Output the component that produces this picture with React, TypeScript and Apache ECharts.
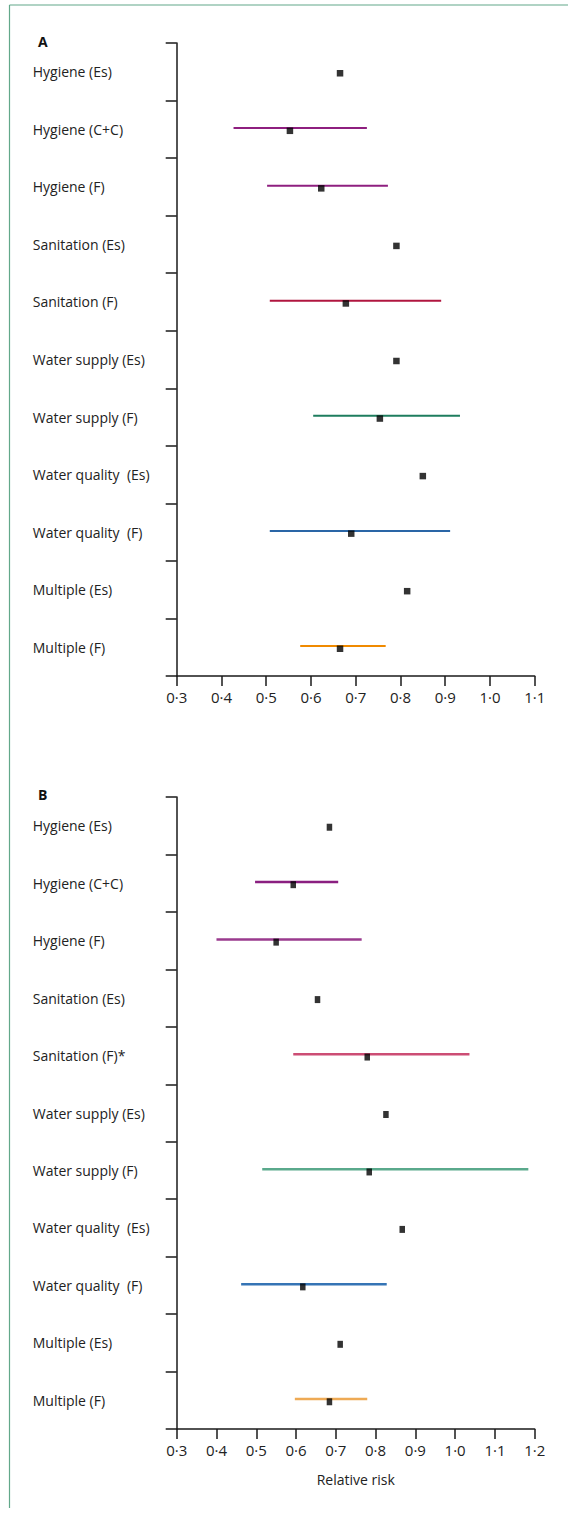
import React, { useEffect, useRef } from "react";
import * as echarts from "echarts";

const categoriesA = [
  "Hygiene (Es)", "Hygiene (C+C)", "Hygiene (F)", "Sanitation (Es)", "Sanitation (F)",
  "Water supply (Es)", "Water supply (F)", "Water quality  (Es)", "Water quality  (F)",
  "Multiple (Es)", "Multiple (F)",
];
const categoriesB = [
  "Hygiene (Es)", "Hygiene (C+C)", "Hygiene (F)", "Sanitation (Es)", "Sanitation (F)*",
  "Water supply (Es)", "Water supply (F)", "Water quality  (Es)", "Water quality  (F)",
  "Multiple (Es)", "Multiple (F)",
];

// point estimates
const estA = [0.665, 0.553, 0.623, 0.791, 0.678, 0.791, 0.754, 0.85, 0.69, 0.815, 0.665];
const estB = [0.684, 0.593, 0.55, 0.654, 0.779, 0.826, 0.784, 0.867, 0.617, 0.711, 0.684];
// confidence intervals (null = none shown)
const loA = [null, 0.427, 0.502, null, 0.508, null, 0.605, null, 0.508, null, 0.576];
const hiA = [null, 0.725, 0.772, null, 0.891, null, 0.933, null, 0.911, null, 0.767];
const loB = [null, 0.497, 0.4, null, 0.593, null, 0.515, null, 0.462, null, 0.597];
const hiB = [null, 0.706, 0.765, null, 1.036, null, 1.184, null, 0.828, null, 0.779];

const ciColorsA = ["#000", "#8e1f7f", "#8e1f7f", "#000", "#b0163f", "#000", "#1e7d5e", "#000", "#2a66a6", "#000", "#f08a00"];
const ciColorsB = ["#000", "#8a1f80", "#9a3a8e", "#000", "#cc4d74", "#000", "#5aa98c", "#000", "#3574b5", "#000", "#eeaa55"];

const xTicksA = { min: 0.3, max: 1.1 };
const xTicksB = { min: 0.3, max: 1.2 };

const FONT = "'Open Sans', 'Noto Sans', sans-serif";
const fmt = (v: number) => v.toFixed(1).replace(".", "\u00B7");

export default function App() {
  const ref = useRef<HTMLDivElement>(null);
  useEffect(() => {
    if (!ref.current) return;
    const chart = echarts.init(ref.current, null, { renderer: "svg" });
    const axisColor = "#1a1a1a";
    const grids = [
      { left: 176.7, top: 43, width: 358, height: 633 },
      { left: 176.7, top: 797, width: 358, height: 632 },
    ];
    const mkX = (i: number, r: { min: number; max: number }, name?: string) => ({
      type: "value",
      gridIndex: i,
      min: r.min,
      max: r.max,
      interval: 0.1,
      splitLine: { show: false },
      axisLine: { show: true, lineStyle: { color: axisColor, width: 1.5 } },
      axisTick: { show: true, length: 10, lineStyle: { color: axisColor, width: 1.5 } },
      axisLabel: { formatter: fmt, fontFamily: FONT, fontSize: 15, color: "#222", margin: 13 },
      name: name || "",
      nameLocation: "middle",
      nameGap: 43,
      nameTextStyle: { fontFamily: FONT, fontSize: 14, color: "#222" },
    });
    const mkY = (i: number, cats: string[]) => ({
      type: "category",
      gridIndex: i,
      data: cats,
      inverse: true,
      boundaryGap: true,
      axisLine: { show: true, lineStyle: { color: axisColor, width: 1.5 } },
      axisTick: { show: true, length: 11, lineStyle: { color: axisColor, width: 1.5 } },
      axisLabel: {
        align: "left",
        margin: 144,
        fontFamily: FONT,
        fontSize: 14,
        color: "#222",
      },
      splitLine: { show: false },
    });
    const ciSeries = (i: number, lo: (number | null)[], hi: (number | null)[], colors: string[], w: number) => ({
      type: "custom",
      xAxisIndex: i,
      yAxisIndex: i,
      data: lo
        .map((l, k) => (l === null ? null : [l, hi[k], k]))
        .filter((d) => d !== null),
      encode: { x: [0, 1], y: 2 },
      renderItem: (params: any, api: any) => {
        const idx = api.value(2);
        const p1 = api.coord([api.value(0), idx]);
        const p2 = api.coord([api.value(1), idx]);
        return {
          type: "line",
          shape: { x1: p1[0], y1: p1[1] - 1.2, x2: p2[0], y2: p2[1] - 1.2 },
          style: { stroke: colors[idx], lineWidth: w },
        };
      },
      z: 2,
    });
    const ptSeries = (i: number, est: number[], size: number[]) => ({
      type: "scatter",
      xAxisIndex: i,
      yAxisIndex: i,
      data: est.map((v, k) => [v, k]),
      symbol: "rect",
      symbolSize: size,
      symbolOffset: [0, 1.5],
      itemStyle: { color: "#000" },
      z: 3,
    });
    const green = "#62a88a";
    chart.setOption({
      animation: false,
      title: [
        { text: "A", left: 33, top: 29, textStyle: { fontFamily: FONT, fontSize: 14, fontWeight: "bold", color: "#111" } },
        { text: "B", left: 33, top: 782, textStyle: { fontFamily: FONT, fontSize: 14, fontWeight: "bold", color: "#111" } },
      ],
      grid: grids,
      xAxis: [mkX(0, xTicksA), mkX(1, xTicksB, "Relative risk")],
      yAxis: [mkY(0, categoriesA), mkY(1, categoriesB)],
      series: [
        ciSeries(0, loA, hiA, ciColorsA, 2),
        ptSeries(0, estA, [6.5, 6.5]),
        ciSeries(1, loB, hiB, ciColorsB, 2.5),
        ptSeries(1, estB, [5.5, 7]),
      ],
      graphic: [
        { type: "line", shape: { x1: 9.5, y1: 5, x2: 568, y2: 5 }, style: { stroke: green, lineWidth: 1.2 } },
        { type: "line", shape: { x1: 9.5, y1: 5, x2: 9.5, y2: 1508 }, style: { stroke: green, lineWidth: 1.2 } },
      ],
    });
    return () => chart.dispose();
  }, []);
  return (
    <div
      ref={ref}
      style={{ position: "absolute", left: 0, top: 0, width: 568, height: 1513, background: "#fff" }}
    />
  );
}
